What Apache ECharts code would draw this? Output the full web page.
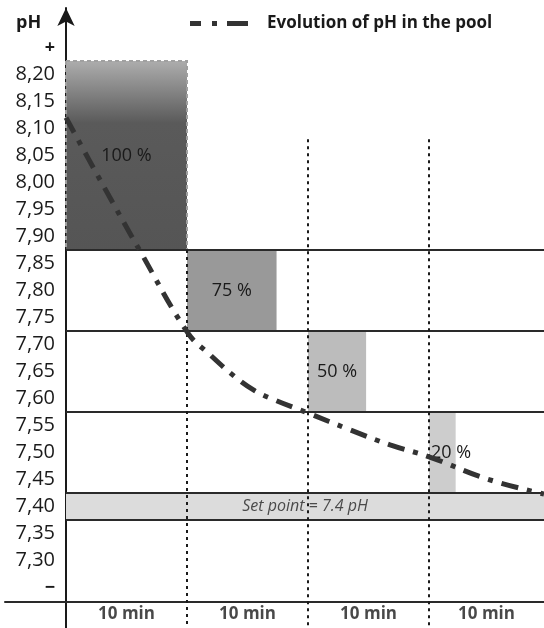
<!DOCTYPE html>
<html>
<head>
<meta charset="utf-8">
<script src="https://cdn.jsdelivr.net/npm/echarts@6/dist/echarts.min.js"></script>
<style>html,body{margin:0;padding:0;background:#fff;}#c{width:544px;height:628px;}</style>
</head>
<body>
<div id="c"></div>
<script>
// ---- data ----
const timeMin = [0, 2.81, 6.12, 10.08, 11.9, 13.97, 15.62, 17.27, 20.0, 23.47, 26.78, 30.0, 34.79, 39.5];
const phValues = [8.12, 8.005, 7.873, 7.721, 7.681, 7.640, 7.614, 7.597, 7.573, 7.542, 7.514, 7.492, 7.451, 7.423];
const dosingLabels = ['100 %', '75 %', '50 %', '20 %'];
const dosingStart = [0, 10, 20, 30];
const dosingEnd = [10, 17.4, 24.8, 32.2];
const dosingTop = [8.225, 7.875, 7.725, 7.575];
const dosingBottom = [7.875, 7.725, 7.575, 7.425];
const bandLines = [7.875, 7.725, 7.575, 7.425, 7.375];
const stepMarks = [10, 20, 30];
const stepLabelPos = [5, 15, 25, 34.75];
const stepLabels = ['10 min', '10 min', '10 min', '10 min'];
const setPoint = 7.4;
const setPointLabel = 'Set point = 7.4 pH';
const seriesName = 'Evolution of pH in the pool';

const X_MIN = 0, X_MAX = 39.5, Y_MIN = 7.175, Y_MAX = 8.323, X_AXIS_Y = 7.225;
const FONT = '"Open Sans", "DejaVu Sans", sans-serif';

const chart = echarts.init(document.getElementById('c'), null, {renderer: 'canvas'});

const fills = [
  new echarts.graphic.LinearGradient(0, 0, 0, 1, [
    {offset: 0, color: '#aeaeae'}, {offset: 0.33, color: '#5a5a5a'}, {offset: 1, color: '#555555'}]),
  '#999999', '#bcbcbc', '#cdcdcd'
];
const labelPos = ['inside', 'inside', 'inside', 'insideLeft'];

const areaData = dosingLabels.map((lab, i) => [
  {
    coord: [dosingStart[i], dosingTop[i]],
    name: lab,
    itemStyle: i === 0
      ? {color: fills[i], borderColor: '#a0a0a0', borderWidth: 2, borderType: [4, 3]}
      : {color: fills[i], borderWidth: 0},
    label: {show: true, position: labelPos[i], color: '#1a1a1a', fontSize: 18, fontFamily: FONT,
      distance: i === 3 ? 2 : 5}
  },
  {coord: [dosingEnd[i], dosingBottom[i]]}
]);
areaData.push([
  {
    coord: [0, setPoint + 0.025], name: setPointLabel,
    itemStyle: {color: '#dcdcdc'},
    label: {show: true, position: 'inside', color: '#4a4a4a', fontStyle: 'italic', fontSize: 16, fontFamily: FONT}
  },
  {coord: [X_MAX, setPoint - 0.025]}
]);

const hLines = bandLines.map(v => [{coord: [0, v]}, {coord: [X_MAX, v]}]);
const vLines = stepMarks.map((m, i) => [
  {coord: [m, i === 0 ? dosingBottom[0] : 8.08]}, {coord: [m, Y_MIN]}
]);

const option = {
  animation: false,
  backgroundColor: '#fff',
  title: {text: 'pH', left: 11, top: 9, textStyle: {fontSize: 18, fontWeight: 'bold', color: '#1a1a1a', fontFamily: FONT}},
  legend: {
    data: [seriesName], left: 185, top: 10,
    icon: 'path://M0,0H11V5H0Z M22,0H27V5H22Z M37,0H58V5H37Z',
    itemWidth: 58, itemHeight: 6,
    textStyle: {fontSize: 17, fontWeight: 'bold', color: '#1a1a1a', fontFamily: FONT, padding: [0, 0, 0, 14]}
  },
  grid: [
    {left: 66, right: 0, top: 8, bottom: 0, containLabel: false, outerBoundsMode: 'none'},
    // second grid only carries the horizontal time-axis line, which extends left of the pH axis
    {left: 5, right: 0, top: 8, bottom: 26.5, containLabel: false, outerBoundsMode: 'none'}
  ],
  xAxis: [
    {
      type: 'value', gridIndex: 0, min: X_MIN, max: X_MAX, interval: 5,
      axisLine: {show: false}, axisTick: {show: false}, axisLabel: {show: false}, splitLine: {show: false}
    },
    {
      type: 'value', gridIndex: 1, min: 0, max: 1, position: 'bottom',
      axisLine: {show: true, onZero: false, lineStyle: {color: '#2a2a2a', width: 2}},
      axisTick: {show: false}, axisLabel: {show: false}, splitLine: {show: false}
    }
  ],
  yAxis: [
    {
      type: 'value', gridIndex: 0, min: Y_MIN, max: Y_MAX, interval: 0.025,
      axisLine: {show: true, onZero: false, symbol: ['none', 'arrow'], symbolSize: [13, 18],
        lineStyle: {color: '#1a1a1a', width: 2}},
      axisTick: {show: false}, splitLine: {show: false},
      axisLabel: {
        margin: 11, fontSize: 20, color: '#1a1a1a', fontFamily: FONT,
        formatter: function (v) {
          const k = Math.round(v * 1000);
          if (k === 8250) return '{b|+}';
          if (k === 7250) return '{b|−}';
          if (k % 50 !== 0 || k < 7300 || k > 8200) return '';
          return (k / 1000).toFixed(2).replace('.', ',');
        },
        rich: {b: {fontSize: 18, fontWeight: 'bold', color: '#1a1a1a', fontFamily: FONT}}
      }
    },
    {
      type: 'value', gridIndex: 1, min: 0, max: 1, show: false
    }
  ],
  series: [
    {
      name: 'areas', type: 'line', data: [], z: 1, silent: true,
      markArea: {silent: true, data: areaData}
    },
    {
      name: 'lines', type: 'line', data: [], z: 3, silent: true,
      markLine: {silent: true, symbol: 'none', label: {show: false},
        lineStyle: {color: '#2a2a2a', width: 2, type: 'solid'}, data: hLines}
    },
    {
      name: 'steps', type: 'line', data: [], z: 3, silent: true,
      markLine: {silent: true, symbol: 'none', label: {show: false},
        lineStyle: {color: '#1a1a1a', width: 2, type: [3, 4]}, data: vLines}
    },
    {
      name: seriesName, type: 'line', z: 10, smooth: 0.4, symbol: 'none',
      data: timeMin.map((t, i) => [t, phValues[i]]),
      itemStyle: {color: '#333333'},
      lineStyle: {color: '#333333', width: 5, type: [17, 9, 5, 9]}
    },
    {
      name: 'steplabels', type: 'scatter', z: 5, silent: true, symbolSize: 1, clip: false,
      itemStyle: {color: 'rgba(0,0,0,0)'},
      label: {show: true, position: 'bottom', distance: 4, formatter: p => stepLabels[p.dataIndex],
        fontSize: 17, fontWeight: 'bold', color: '#1a1a1a', fontFamily: FONT},
      data: stepLabelPos.map(p => [p, X_AXIS_Y])
    }
  ]
};
chart.setOption(option);
</script>
</body>
</html>
